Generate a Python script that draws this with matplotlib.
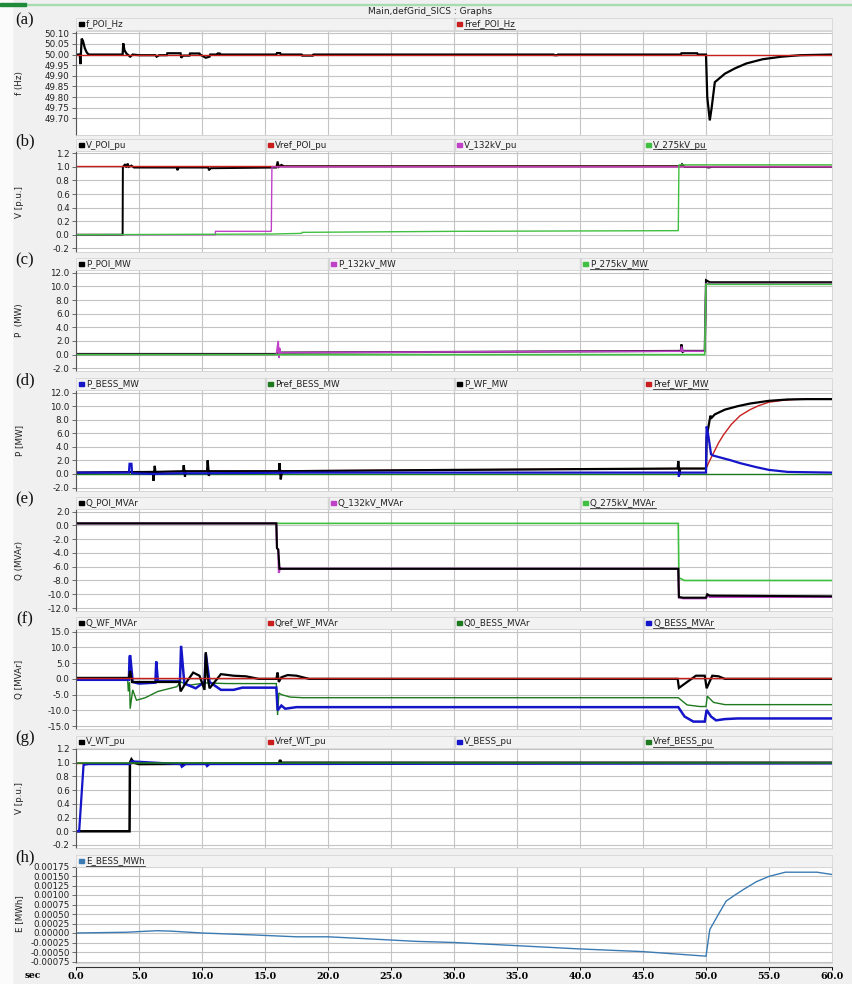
import matplotlib
matplotlib.use("Agg")
import matplotlib.pyplot as plt
from matplotlib.patches import Rectangle
from matplotlib.lines import Line2D
import numpy as np

W, H = 853, 984

# ---------------- (a) frequency ----------------
t_f_poi = [0, 0.3, 0.35, 0.45, 0.55, 0.7, 0.85, 1.0, 3.7, 3.75, 3.85, 4.0, 4.3, 4.5, 5.0,
           6.3, 6.4, 6.6, 7.2, 7.25, 8.3, 8.35, 8.5, 9.0, 9.05, 9.8, 9.85, 10.3, 10.6, 10.65,
           11.2, 11.25, 11.4, 11.45, 15.9, 15.95, 16.2, 16.25, 17.9, 17.95, 18.8, 18.85,
           37.9, 37.95, 38.2, 38.25, 48.0, 48.05, 49.3, 49.35, 50.0, 50.1, 50.3, 50.45,
           50.7, 50.9, 51.5, 52.3, 53.2, 54.5, 56.0, 57.5, 60]
v_f_poi = [50.0, 50.0, 49.955, 50.075, 50.065, 50.03, 50.01, 50.0, 50.0, 50.053, 50.02, 50.005, 49.99, 50.0, 49.997,
           49.997, 49.99, 49.997, 49.997, 50.006, 50.006, 49.985, 49.995, 49.995, 50.005, 50.005, 50.0, 49.985, 49.99, 50.0,
           50.0, 50.005, 50.005, 50.0, 50.0, 50.007, 50.007, 50.0, 50.0, 49.995, 49.995, 50.0,
           50.0, 49.997, 49.997, 50.0, 50.0, 50.006, 50.006, 50.0, 50.0, 49.8, 49.69, 49.75,
           49.87, 49.88, 49.91, 49.935, 49.958, 49.978, 49.99, 49.997, 50.0]
t_fref = [0, 60]
v_fref = [50.0, 50.0]

# ---------------- (b) voltages at POI ----------------
t_v_poi = [0, 3.7, 3.72, 3.9, 4.0, 4.1, 4.2, 4.4, 4.6, 5.0, 8.0, 8.05, 8.15, 10.5, 10.55, 10.7,
           15.9, 16.0, 16.1, 16.3, 16.5, 48.0, 48.1, 48.3, 50.0, 50.2, 50.5, 60]
v_v_poi = [0.0, 0.0, 1.0, 1.04, 0.99, 1.05, 1.0, 1.02, 0.99, 0.99, 0.99, 0.95, 0.99, 0.99, 0.95, 0.98,
           0.99, 1.08, 1.0, 1.03, 1.01, 1.01, 1.04, 1.0, 1.0, 0.99, 1.0, 1.0]
t_vref_poi = [0, 60]
v_vref_poi = [1.01, 1.01]
t_v_132 = [0, 11.05, 11.07, 15.5, 15.55, 60]
v_v_132 = [0.0, 0.0, 0.05, 0.05, 1.0, 1.0]
t_v_275 = [0, 15.5, 17.9, 17.95, 30.0, 47.8, 47.85, 60]
v_v_275 = [0.0, 0.01, 0.02, 0.035, 0.05, 0.06, 1.03, 1.03]

# ---------------- (c) active power at POI ----------------
t_p_poi = [0, 15.9, 16.0, 16.2, 16.4, 30.0, 48.0, 48.05, 48.15, 48.3, 49.9, 50.0, 50.3, 60]
v_p_poi = [0.1, 0.1, 0.2, 0.3, 0.3, 0.4, 0.55, 1.5, 0.4, 0.55, 0.55, 10.9, 10.6, 10.6]
t_p_132 = [0, 15.9, 16.05, 16.1, 16.15, 16.25, 16.4, 30.0, 48.0, 48.05, 48.15, 49.9, 50.0, 60]
v_p_132 = [0.0, 0.0, 2.0, -0.5, 1.0, 0.2, 0.3, 0.4, 0.5, 1.2, 0.5, 0.5, 10.4, 10.4]
t_p_275 = [0, 49.9, 50.0, 60]
v_p_275 = [0.0, 0.0, 10.3, 10.3]

# ---------------- (d) BESS / wind farm active power ----------------
t_p_bess = [0, 4.2, 4.25, 4.4, 4.45, 6.3, 8.0, 10.0, 18.0, 47.8, 47.85, 47.9, 50.0, 50.05,
            50.2, 50.4, 50.6, 51.0, 52.0, 52.7, 54.0, 55.0, 56.5, 60]
v_p_bess = [0.2, 0.2, 1.5, 1.5, 0.1, 0.0, 0.1, 0.1, 0.2, 0.2, -0.4, 0.2, 0.2, 7.0,
            5.5, 2.9, 2.7, 2.5, 2.0, 1.6, 1.0, 0.6, 0.3, 0.2]
t_pref_bess = [0, 60]
v_pref_bess = [0.0, 0.0]
t_p_wf = [0, 6.1, 6.15, 6.25, 6.3, 8.5, 8.55, 8.65, 8.7, 10.4, 10.45, 10.55, 10.6,
          16.1, 16.15, 16.25, 16.35, 30.0, 47.75, 47.8, 47.9, 47.95, 50.0, 50.05, 50.15,
          50.35, 50.45, 50.7, 51.5, 52.5, 53.5, 55.0, 56.5, 58.0, 60]
v_p_wf = [0.2, 0.3, -1.0, 1.2, 0.3, 0.4, 1.3, -0.4, 0.4, 0.4, 2.0, -0.3, 0.4,
          0.4, 1.6, -0.8, 0.4, 0.6, 0.8, 1.9, -0.1, 0.8, 0.8, 5.5, 6.5,
          8.6, 8.3, 8.8, 9.5, 10.0, 10.4, 10.8, 11.0, 11.05, 11.05]
t_pref_wf = [0, 10.0, 20.0, 30.0, 48.0, 50.0, 50.3, 50.6, 51.0, 51.4, 52.0, 52.7, 53.5,
             54.2, 55.0, 56.0, 57.0, 58.0, 60]
v_pref_wf = [0.2, 0.4, 0.5, 0.6, 0.8, 0.8, 2.0, 3.1, 4.6, 5.8, 7.3, 8.6, 9.5,
             10.1, 10.6, 10.85, 11.0, 11.05, 11.05]

# ---------------- (e) reactive power at POI ----------------
t_q_poi = [0, 15.9, 15.95, 16.05, 16.15, 16.3, 47.8, 47.85, 48.2, 50.0, 50.1, 50.3, 60]
v_q_poi = [0.3, 0.3, -3.3, -3.5, -6.3, -6.3, -6.3, -10.4, -10.5, -10.5, -10.0, -10.2, -10.3]
t_q_132 = [0, 15.9, 15.95, 16.05, 16.1, 16.2, 16.3, 47.8, 47.85, 48.2, 50.0, 50.1, 50.3, 60]
v_q_132 = [0.3, 0.3, -3.3, -3.5, -6.9, -6.1, -6.3, -6.3, -10.5, -10.6, -10.6, -10.2, -10.4, -10.4]
t_q_275 = [0, 47.8, 47.85, 48.3, 60]
v_q_275 = [0.3, 0.3, -7.6, -8.0, -8.0]

# ---------------- (f) reactive power WF / BESS ----------------
t_q_wf = [0, 4.2, 4.3, 4.45, 4.6, 8.2, 8.3, 8.6, 9.3, 9.8, 10.2, 10.3, 10.45, 10.6, 11.5,
          12.5, 13.5, 14.5, 15.9, 16.0, 16.1, 16.3, 16.8, 17.5, 18.5, 47.75, 47.85,
          48.5, 49.2, 49.9, 50.05, 50.5, 51.0, 51.5, 60]
v_q_wf = [0.3, 0.3, 2.5, -1.0, -1.0, -1.0, -4.0, -2.0, 2.0, 1.0, -3.5, 8.5, 0.5, -3.0, 1.5,
          1.0, 0.8, 0.0, 0.0, 2.0, -1.0, 0.5, 1.2, 1.0, 0.0, 0.0, -2.9,
          -1.0, 1.0, 1.0, -3.0, 1.0, 0.8, 0.0, 0.0]
t_qref_wf = [0, 60]
v_qref_wf = [0.3, 0.3]
t_q0_bess = [0, 4.1, 4.15, 4.25, 4.3, 4.5, 4.8, 5.5, 6.5, 8.0, 8.3, 9.0, 10.3, 12.0,
             15.9, 16.0, 16.1, 16.3, 17.0, 18.0, 47.8, 48.5, 49.5, 50.0, 50.1, 50.6, 51.5, 60]
v_q0_bess = [0.0, 0.0, -4.0, -1.0, -9.5, -3.5, -6.8, -6.0, -4.0, -2.5, -1.0, -2.0, -1.3, -1.5,
             -1.5, -11.5, -4.5, -5.0, -5.8, -6.0, -6.0, -8.3, -8.8, -8.8, -5.5, -7.5, -8.2, -8.2]
t_q_bess = [0, 4.2, 4.25, 4.3, 4.5, 5.0, 6.3, 6.37, 6.5, 8.25, 8.34, 8.6, 9.5, 10.2, 10.3,
            10.6, 11.5, 12.5, 13.2, 15.9, 16.0, 16.3, 16.6, 17.5, 47.8, 48.3, 49.0, 49.9,
            50.05, 50.4, 50.8, 51.5, 52.5, 60]
v_q_bess = [-0.3, -0.3, 7.0, 7.5, -1.0, -1.5, -1.2, 5.5, -0.8, -0.8, 10.5, -1.5, -3.0, -1.0, 8.0,
            -1.0, -3.5, -3.5, -2.8, -2.8, -10.0, -8.5, -9.5, -9.0, -9.0, -12.0, -13.6, -13.6,
            -9.9, -12.0, -13.2, -12.8, -12.6, -12.6]

# ---------------- (g) terminal voltages ----------------
t_v_wt = [0, 4.25, 4.28, 4.4, 4.6, 5.0, 16.1, 16.2, 16.3, 60]
v_v_wt = [0.0, 0.0, 1.0, 1.05, 1.0, 0.98, 0.99, 1.04, 1.0, 1.0]
t_vref_wt = [0, 60]
v_vref_wt = [1.0, 1.0]
t_v_bess = [0, 0.25, 0.6, 1.0, 4.3, 4.4, 8.3, 8.4, 8.7, 10.3, 10.4, 10.6, 60]
v_v_bess = [0.0, 0.0, 0.97, 0.98, 0.98, 1.02, 0.98, 0.94, 0.98, 0.98, 0.95, 0.98, 0.99]
t_vref_bess = [0, 60]
v_vref_bess = [1.0, 1.0]

# ---------------- (h) BESS energy ----------------
t_e_bess = [0, 4.0, 6.4, 7.5, 10.0, 14.0, 17.5, 20.0, 23.0, 27.0, 30.0, 34.8, 40.0, 45.0,
            50.0, 50.3, 51.0, 51.6, 52.3, 53.0, 54.0, 55.0, 56.3, 58.8, 60]
v_e_bess = [0.0, 0.00002, 0.00006, 0.00005, 0.0, -0.00005, -0.0001, -0.0001, -0.00015,
            -0.00022, -0.00025, -0.00033, -0.00042, -0.00049, -0.00061, 0.00009, 0.0005,
            0.00084, 0.001, 0.00115, 0.00135, 0.00149, 0.0016, 0.0016, 0.00154]

# colours
BLACK = "#000000"
RED = "#c81e1e"
MAGENTA = "#c040c8"
LGREEN = "#40c040"
DGREEN = "#1e7a1e"
BLUE = "#1414c8"
STEEL = "#3b7bb3"

panels = [
    dict(tag="(a)", ylabel="f (Hz)", ticks=[50.10, 50.05, 50.00, 49.95, 49.90, 49.85, 49.80, 49.75, 49.70],
         fmt="{:.2f}", tp=(33.3, 118.3), ax=(31, 135), hy=24,
         series=[(t_f_poi, v_f_poi, BLACK, 1.6, "f_POI_Hz"), (t_fref, v_fref, RED, 1.0, "Fref_POI_Hz")]),
    dict(tag="(b)", ylabel="V [p.u.]", ticks=[1.2, 1.0, 0.8, 0.6, 0.4, 0.2, 0.0, -0.2],
         fmt="{:.1f}", tp=(153.3, 248.3), ax=(151, 252), hy=145,
         series=[(t_v_poi, v_v_poi, BLACK, 1.4, "V_POI_pu"), (t_vref_poi, v_vref_poi, RED, 1.0, "Vref_POI_pu"),
                 (t_v_132, v_v_132, MAGENTA, 1.0, "V_132kV_pu"), (t_v_275, v_v_275, LGREEN, 1.0, "V_275kV_pu")]),
    dict(tag="(c)", ylabel="P  (MW)", ticks=[12.0, 10.0, 8.0, 6.0, 4.0, 2.0, 0.0, -2.0],
         fmt="{:.1f}", tp=(272.7, 368.3), ax=(270, 371), hy=264,
         series=[(t_p_poi, v_p_poi, BLACK, 1.5, "P_POI_MW"), (t_p_132, v_p_132, MAGENTA, 1.2, "P_132kV_MW"),
                 (t_p_275, v_p_275, LGREEN, 1.2, "P_275kV_MW")]),
    dict(tag="(d)", ylabel="P [MW]", ticks=[12.0, 10.0, 8.0, 6.0, 4.0, 2.0, 0.0, -2.0],
         fmt="{:.1f}", tp=(392.7, 487.5), ax=(390, 491), hy=384,
         series=[(t_pref_bess, v_pref_bess, DGREEN, 1.0, "Pref_BESS_MW"), (t_pref_wf, v_pref_wf, RED, 1.0, "Pref_WF_MW"),
                 (t_p_wf, v_p_wf, BLACK, 1.6, "P_WF_MW"), (t_p_bess, v_p_bess, BLUE, 1.6, "P_BESS_MW")],
         order=["P_BESS_MW", "Pref_BESS_MW", "P_WF_MW", "Pref_WF_MW"]),
    dict(tag="(e)", ylabel="Q (MVAr)", ticks=[2.0, 0.0, -2.0, -4.0, -6.0, -8.0, -10.0, -12.0],
         fmt="{:.1f}", tp=(511.7, 608.0), ax=(509, 611), hy=503,
         series=[(t_q_275, v_q_275, LGREEN, 1.2, "Q_275kV_MVAr"), (t_q_132, v_q_132, MAGENTA, 1.5, "Q_132kV_MVAr"),
                 (t_q_poi, v_q_poi, BLACK, 1.5, "Q_POI_MVAr")],
         order=["Q_POI_MVAr", "Q_132kV_MVAr", "Q_275kV_MVAr"]),
    dict(tag="(f)", ylabel="Q [MVAr]", ticks=[15.0, 10.0, 5.0, 0.0, -5.0, -10.0, -15.0],
         fmt="{:.1f}", tp=(631.7, 726.0), ax=(629, 729), hy=623,
         series=[(t_q0_bess, v_q0_bess, DGREEN, 1.0, "Q0_BESS_MVAr"), (t_q_bess, v_q_bess, BLUE, 1.8, "Q_BESS_MVAr"),
                 (t_q_wf, v_q_wf, BLACK, 1.6, "Q_WF_MVAr"), (t_qref_wf, v_qref_wf, RED, 1.0, "Qref_WF_MVAr")],
         order=["Q_WF_MVAr", "Qref_WF_MVAr", "Q0_BESS_MVAr", "Q_BESS_MVAr"]),
    dict(tag="(g)", ylabel="V [p.u.]", ticks=[1.2, 1.0, 0.8, 0.6, 0.4, 0.2, 0.0, -0.2],
         fmt="{:.1f}", tp=(749.0, 845.0), ax=(747, 848), hy=742,
         series=[(t_vref_wt, v_vref_wt, RED, 1.0, "Vref_WT_pu"), (t_v_wt, v_v_wt, BLACK, 1.8, "V_WT_pu"),
                 (t_v_bess, v_v_bess, BLUE, 1.6, "V_BESS_pu"), (t_vref_bess, v_vref_bess, DGREEN, 1.2, "Vref_BESS_pu")],
         order=["V_WT_pu", "Vref_WT_pu", "V_BESS_pu", "Vref_BESS_pu"]),
    dict(tag="(h)", ylabel="E [MWh]", ticks=[0.00175, 0.0015, 0.00125, 0.001, 0.00075, 0.0005, 0.00025, 0.0,
                                              -0.00025, -0.0005, -0.00075],
         fmt="{:.5f}", tp=(866.5, 961.5), ax=(865, 963), hy=861,
         series=[(t_e_bess, v_e_bess, STEEL, 1.0, "E_BESS_MWh")]),
]

X0, X1 = 76, 832

fig = plt.figure(figsize=(W / 100, H / 100), dpi=100)
fig.patch.set_facecolor("#f0f0f0")


def fx(px):
    return px / W


def fy(py):
    return 1 - py / H


# window decorations
fig.add_artist(Rectangle((0, fy(984)), fx(12), 1, transform=fig.transFigure, color="#fbfbfb", zorder=0))
fig.add_artist(Rectangle((fx(12), fy(5)), 1, 1 / H, transform=fig.transFigure, color="#a8dcb0", zorder=1))
fig.add_artist(Rectangle((0, fy(6)), fx(26), 2.5 / H, transform=fig.transFigure, color="#1f8a3a", zorder=1))
fig.text(fx(430), fy(11), "Main,defGrid_SICS : Graphs", ha="center", va="center", fontsize=6.5, color="#222222")

underlined = []

for p in panels:
    top, bot = p["ax"]
    ptop, pbot = p["tp"]
    vt, vb = p["ticks"][0], p["ticks"][-1]
    scale = (vt - vb) / (pbot - ptop)
    ylo = vb - (bot - pbot) * scale
    yhi = vt + (ptop - top) * scale

    ax = fig.add_axes([fx(X0), fy(bot), fx(X1 - X0), (bot - top) / H])
    ax.set_facecolor("white")
    for s in p["series"]:
        t, v, c, lw, _ = s
        ax.plot(t, v, color=c, lw=lw, solid_joinstyle="miter")
    ax.set_xlim(0, 60)
    ax.set_ylim(ylo, yhi)
    ax.set_xticks(np.arange(0, 61, 5))
    ax.set_yticks(p["ticks"])
    ax.set_yticklabels([p["fmt"].format(v) for v in p["ticks"]], fontsize=6.3, color="#222222")
    ax.tick_params(axis="y", length=3, width=0.6, pad=1.5, color="#555555")
    ax.tick_params(axis="x", length=0, labelbottom=False)
    ax.grid(True, color="#c4c4c4", lw=0.8)
    ax.set_axisbelow(True)
    for side in ["top", "right", "bottom"]:
        ax.spines[side].set_color("#d0d0d0")
        ax.spines[side].set_linewidth(0.6)
    ax.spines["left"].set_color("#555555")
    ax.spines["left"].set_linewidth(0.8)

    # y label and panel tag
    fig.text(fx(20), fy((top + bot) / 2), p["ylabel"], rotation=90, ha="center", va="center",
             fontsize=6.3, color="#222222")
    fig.text(fx(25), fy(p["hy"] - 4), p["tag"], ha="center", va="center", fontsize=12,
             family="Liberation Serif", color="#111111")

    # legend strip
    hy = p["hy"]
    fig.add_artist(Rectangle((fx(X0), fy(hy + 6)), fx(X1 - X0), 12 / H, transform=fig.transFigure,
                             facecolor="#f2f2f2", edgecolor="#d6d6d6", lw=0.6, zorder=1))
    names = {s[4]: s[2] for s in p["series"]}
    order = p.get("order", [s[4] for s in p["series"]])
    step = (X1 - X0) / len(order)
    for i, name in enumerate(order):
        cx = X0 + i * step
        if i > 0:
            fig.add_artist(Rectangle((fx(cx), fy(hy + 6)), 0.8 / W, 12 / H, transform=fig.transFigure,
                                     color="#d6d6d6", zorder=2))
        fig.add_artist(Rectangle((fx(cx + 3), fy(hy + 1.5)), 5 / W, 3.5 / H, transform=fig.transFigure,
                                 color=names[name], zorder=3))
        txt = fig.text(fx(cx + 10), fy(hy), name, ha="left", va="center", fontsize=6.3,
                       color="#222222", zorder=3)
        if i == len(order) - 1:
            underlined.append((txt, hy))

# underline the last legend entry of each strip
fig.canvas.draw()
renderer = fig.canvas.get_renderer()
for txt, hy in underlined:
    bb = txt.get_window_extent(renderer)
    fig.add_artist(Line2D([bb.x0 / W, bb.x1 / W], [fy(hy + 4.5), fy(hy + 4.5)],
                          transform=fig.transFigure, color="#333333", lw=0.6, zorder=3))

# shared time axis
tax = fig.add_axes([fx(X0), fy(967), fx(X1 - X0), 0.5 / H])
tax.set_xlim(0, 60)
tax.set_xticks(np.arange(0, 61, 5))
tax.set_xticklabels(["{:.1f}".format(v) for v in np.arange(0, 61, 5)], fontsize=6.8,
                    fontweight="bold", family="DejaVu Serif")
tax.set_yticks([])
tax.tick_params(axis="x", length=2.5, width=0.7, pad=1.0)
tax.patch.set_alpha(0)
for side in ["top", "right", "left"]:
    tax.spines[side].set_visible(False)
tax.spines["bottom"].set_color("#333333")
fig.text(fx(33), fy(975), "sec", ha="center", va="center", fontsize=6.5, fontweight="bold", family="DejaVu Serif")

fig.savefig("out.png", dpi=100, facecolor=fig.get_facecolor())
